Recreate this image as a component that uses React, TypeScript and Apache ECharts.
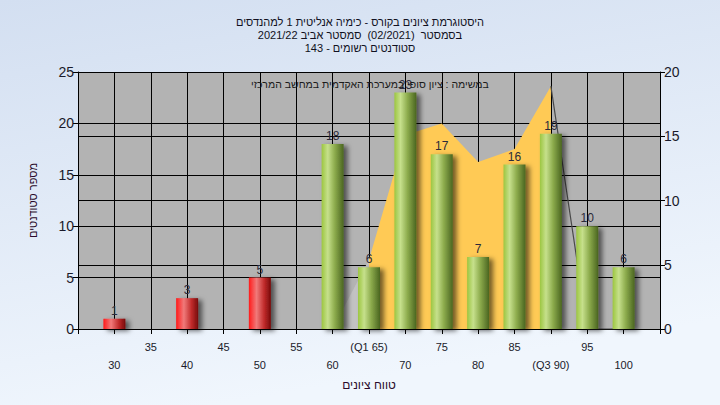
import React, { useEffect, useRef } from "react";
import * as echarts from "echarts";

// ---- data ----
const binGrades = [30, 40, 50, 60, 65, 70, 75, 80, 85, 90, 95, 100];
const studentCounts = [1, 3, 5, 18, 6, 23, 17, 7, 16, 19, 10, 6];
const passGrade = 60;

// reference distribution (right axis)
const refGrades = [60, 65, 70, 75, 80, 85, 90, 95, 100];
const refValues = [0, 5.4, 15.1, 16, 13, 14, 18.9, 0, 0];

const specialLabels: Record<number, string> = { 65: "(Q1 65)", 90: "(Q3 90)" };

const titleLines = [
  "היסטוגרמת ציונים בקורס - כימיה אנליטית 1 למהנדסים",
  "בסמסטר  (02/2021)  סמסטר אביב 2021/22",
  "סטודנטים רשומים - 143",
];
const noteText = "במשימה : ציון סופי במערכת האקדמית במחשב המרכזי";
const yAxisName = "מספר סטודנטים";
const xAxisName = "טווח ציונים";

const FONT = "'Liberation Sans', 'DejaVu Sans', Arial, sans-serif";

export default function App() {
  const ref = useRef<HTMLDivElement>(null);
  useEffect(() => {
    if (!ref.current) return;
    const chart = echarts.init(ref.current, undefined, { renderer: "svg" });

    const green = new echarts.graphic.LinearGradient(0, 0, 1, 0, [
      { offset: 0, color: "#9cc640" },
      { offset: 0.28, color: "#c6e08c" },
      { offset: 0.6, color: "#8cab4c" },
      { offset: 1, color: "#4a6520" },
    ]);
    const red = new echarts.graphic.LinearGradient(0, 0, 1, 0, [
      { offset: 0, color: "#ff1a1a" },
      { offset: 0.35, color: "#f07a7a" },
      { offset: 0.7, color: "#c02a2a" },
      { offset: 1, color: "#760a0a" },
    ]);

    const barData = binGrades.map((g, i) => ({
      value: [g, studentCounts[i]],
      itemStyle: { color: g < passGrade ? red : green },
    }));

    const pts = refGrades.map((g, i) => [g, refValues[i]]);
    const i65 = refGrades.indexOf(65);
    const i90 = refGrades.indexOf(90);
    const yellowPts = pts.slice(i65, i90 + 1);
    const leftTail = pts.slice(0, i65 + 1);
    const rightTail = pts.slice(i90);

    chart.setOption({
      animation: false,
      backgroundColor: {
        type: "linear",
        x: 0,
        y: 0,
        x2: 0.3,
        y2: 1,
        colorStops: [
          { offset: 0, color: "#d3dff1" },
          { offset: 1, color: "#f0f6fd" },
        ],
      },
      title: {
        text: titleLines.join("\n"),
        left: "center",
        top: 10,
        textStyle: {
          fontFamily: FONT,
          fontSize: 11,
          fontWeight: "normal",
          color: "#111122",
          lineHeight: 13,
        },
      },
      grid: {
        left: 78,
        right: 60,
        top: 72,
        bottom: 76,
        show: true,
        backgroundColor: "#b3b3b3",
        borderWidth: 0,
      },
      xAxis: {
        type: "value",
        min: 25,
        max: 105,
        interval: 5,
        name: xAxisName,
        nameLocation: "middle",
        nameGap: 46,
        nameTextStyle: { fontFamily: FONT, fontSize: 12, color: "#2a0a2a" },
        axisLine: { show: true, onZero: false, lineStyle: { color: "#000", width: 1 } },
        axisTick: { show: true, length: 5, lineStyle: { color: "#000" } },
        splitLine: { show: true, lineStyle: { color: "#000", width: 1 } },
        axisLabel: {
          fontFamily: FONT,
          fontSize: 11,
          color: "#1a1a2a",
          margin: 9,
          lineHeight: 18,
          verticalAlign: "top",
          showMinLabel: true,
          showMaxLabel: true,
          formatter: (v: number) => {
            if (v === 25 || v === 105) return "";
            const txt = specialLabels[v] ?? String(v);
            return (v / 5) % 2 === 1 ? txt : "\n" + txt;
          },
        },
      },
      yAxis: [
        {
          type: "value",
          min: 0,
          max: 25,
          interval: 5,
          position: "left",
          name: yAxisName,
          nameLocation: "middle",
          nameGap: 40,
          nameRotate: 90,
          nameTextStyle: { fontFamily: FONT, fontSize: 11, color: "#2a0a2a" },
          axisLine: { show: true, lineStyle: { color: "#000" } },
          axisTick: { show: true, length: 5, lineStyle: { color: "#000" } },
          splitLine: { show: true, lineStyle: { color: "#000", width: 1 } },
          axisLabel: { fontFamily: FONT, fontSize: 14, color: "#1a1a2a", margin: 4 },
        },
        {
          type: "value",
          min: 0,
          max: 20,
          interval: 5,
          position: "right",
          axisLine: { show: true, lineStyle: { color: "#000" } },
          axisTick: { show: true, length: 5, lineStyle: { color: "#000" } },
          splitLine: { show: true, lineStyle: { color: "#000", width: 1 } },
          axisLabel: { fontFamily: FONT, fontSize: 14, color: "#1a1a2a", margin: 4 },
        },
      ],
      graphic: [
        {
          type: "text",
          left: 251,
          top: 78,
          z: 100,
          style: {
            text: noteText,
            font: `10.5px ${FONT}`,
            fill: "#1a1a1a",
          },
        },
      ],
      series: [
        {
          type: "line",
          yAxisIndex: 1,
          data: leftTail,
          symbol: "none",
          lineStyle: { width: 0, color: "#c4c4c4" },
          areaStyle: { color: "#c2c2c2", opacity: 1 },
          z: 1,
        },
        {
          type: "line",
          yAxisIndex: 1,
          data: yellowPts,
          symbol: "none",
          lineStyle: { width: 0, color: "#ffca55" },
          areaStyle: { color: "#ffca55", opacity: 1 },
          z: 2,
        },
        {
          type: "line",
          yAxisIndex: 1,
          data: rightTail,
          symbol: "none",
          lineStyle: { width: 1.2, color: "#4a4a4a" },
          z: 2,
        },
        {
          type: "bar",
          yAxisIndex: 0,
          data: barData,
          barWidth: 22,
          z: 5,
          itemStyle: {
            shadowColor: "rgba(0,0,0,0.55)",
            shadowBlur: 5,
            shadowOffsetX: 4,
            shadowOffsetY: 2,
          },
          label: {
            show: true,
            position: "top",
            distance: 2,
            fontFamily: FONT,
            fontSize: 12,
            color: "#2a2a3a",
            formatter: (p: any) => String(p.value[1]),
          },
        },
      ],
    });
    return () => chart.dispose();
  }, []);

  return (
    <div
      ref={ref}
      style={{ position: "fixed", left: 0, top: 0, width: 720, height: 405 }}
    />
  );
}
